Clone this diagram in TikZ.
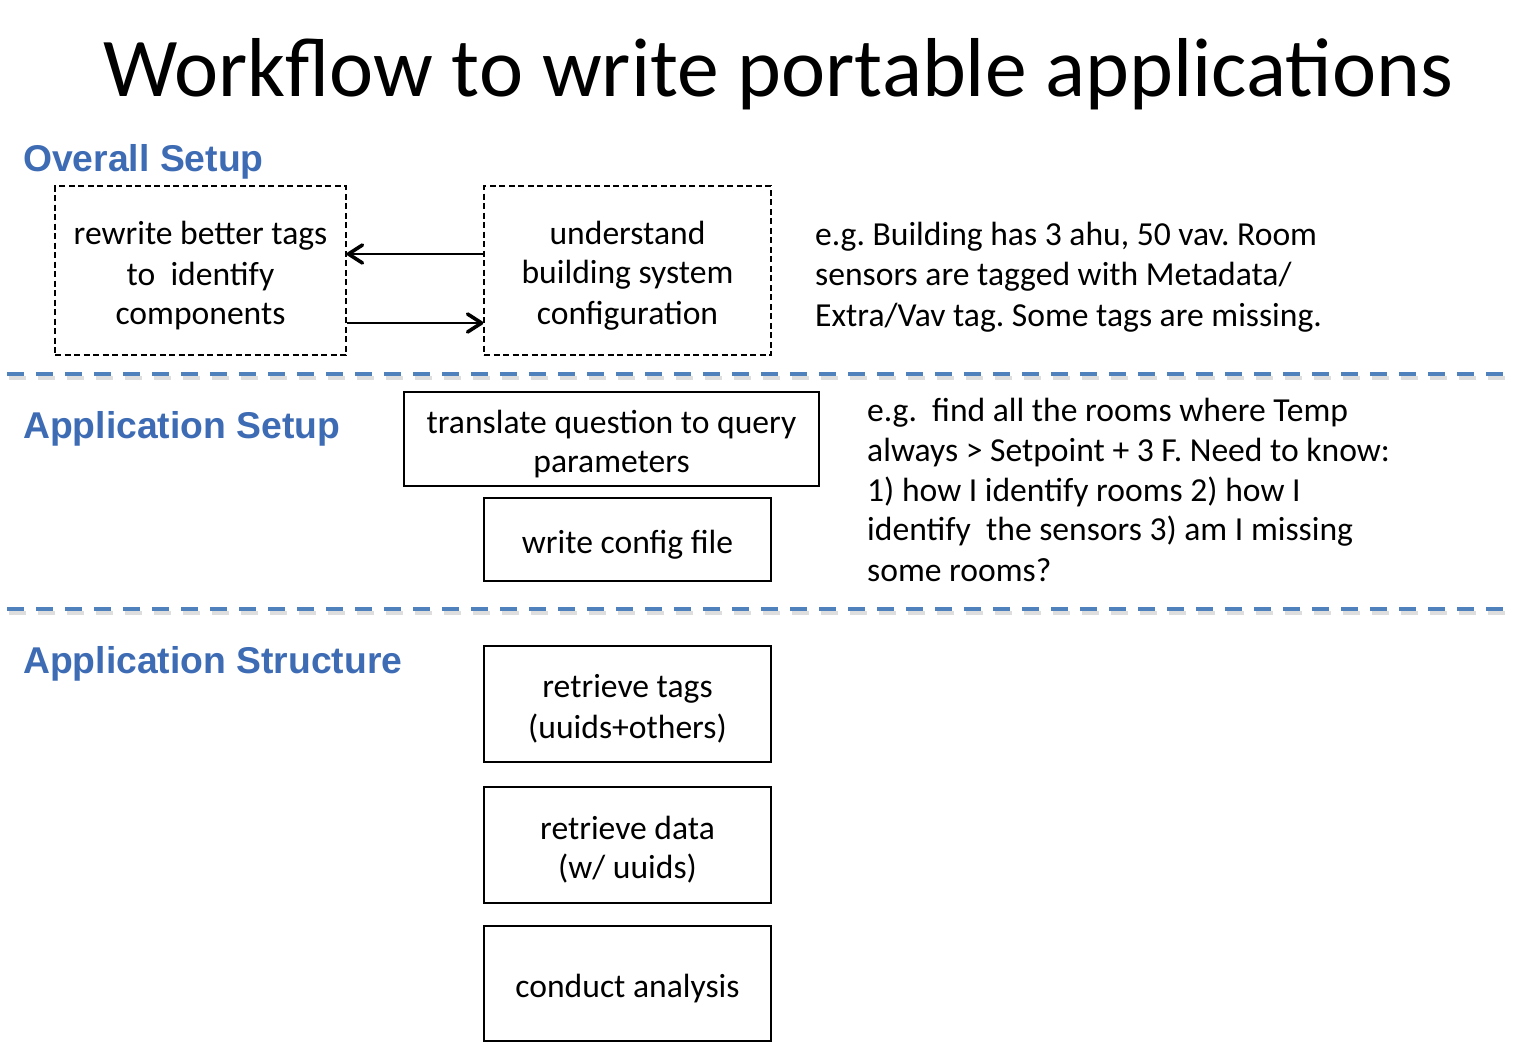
\documentclass[tikz,border=0pt]{standalone}
\usepackage{fontspec}
\setmainfont{Carlito}
\newfontfamily\headfont{Liberation Sans}
\usetikzlibrary{arrows.meta}
\definecolor{headblue}{RGB}{62,108,180}
\definecolor{lineblue}{RGB}{79,129,189}
\newcommand{\ms}{\rule[-5.75pt]{0pt}{39.5pt}}
\frenchspacing
\begin{document}
\begin{tikzpicture}[x=1pt,y=-1pt,
  bodyfont/.style={font=\fontsize{33.6}{39.5}\selectfont},
  sbox/.style={draw=black, line width=1.3pt, inner sep=0pt, align=center, bodyfont},
  dbox/.style={sbox, dash pattern=on 6pt off 3.5pt},
  note/.style={anchor=north west, align=left, inner sep=0pt, bodyfont},
  head/.style={anchor=base west, inner sep=0pt, text=headblue,
    font=\headfont\bfseries\fontsize{37.3}{44}\selectfont},
  arr/.style={line width=1.5pt, -{Straight Barb[length=14pt,width=18pt,line width=3.6pt,round]}},
  sep/.style={line width=4pt, lineblue, dash pattern=on 17pt off 12pt},
  sepshadow/.style={line width=4.5pt, black!13, dash pattern=on 17pt off 12pt}
]
\useasboundingbox (0,0) rectangle (1514,1044);

% title
\node[anchor=base west, inner sep=0pt, font=\fontsize{83.6}{98}\selectfont] (title) at (103,96)
  {Workflow to write portable applications};

% headings
\node[head] (h1) at (23,171) {Overall Setup};
\node[head] (h2) at (23,438) {Application Setup};
\node[head] (h3) at (23,673) {Application Structure};

% overall setup
\node[dbox, minimum width=291pt, minimum height=169pt] (A) at (200.5,270.5)
  {\ms rewrite better tags\\\ms to\ \ identify\\\ms components};
\node[dbox, minimum width=287pt, minimum height=169pt] (B) at (627.5,270.5)
  {\ms understand\\\ms building system\\\ms configuration};
\coordinate (ya) at (0,254);
\coordinate (yb) at (0,323);
\draw[arr] (B.west |- ya) -- (A.east |- ya);
\draw[arr] (A.east |- yb) -- (B.west |- yb);
\node[note] (n1) at (815,211.5)
  {\ms e.g. Building has 3 ahu, 50 vav. Room\\\ms sensors are tagged with Metadata/\\\ms Extra/Vav tag. Some tags are missing.};

% separators
\coordinate (s1a) at (7,374);
\coordinate (s1b) at (1507,374);
\coordinate (s2a) at (7,609);
\coordinate (s2b) at (1507,609);
\draw[sepshadow] ([shift={(1.5pt,-4pt)}]s1a) -- ([shift={(1.5pt,-4pt)}]s1b);
\draw[sepshadow] ([shift={(1.5pt,-4pt)}]s2a) -- ([shift={(1.5pt,-4pt)}]s2b);
\draw[sep] (s1a) -- (s1b);
\draw[sep] (s2a) -- (s2b);

% application setup
\node[sbox, minimum width=415pt, minimum height=94pt] (C) at (611.5,439)
  {\ms translate question to query\\\ms parameters};
\node[sbox, minimum width=287pt, minimum height=83pt] (D) at (627.5,539.5)
  {\ms write config file};
\node[note] (n2) at (867,387.5)
  {\ms e.g.\ \ find all the rooms where Temp\\\ms always > Setpoint + 3 F. Need to know:\\\ms 1) how I identify rooms 2) how I\\\ms identify\ \ the sensors 3) am I missing\\\ms some rooms?};

% application structure
\node[sbox, minimum width=287pt, minimum height=116pt] (E) at (627.5,704)
  {\ms retrieve tags\\\ms (uuids+others)};
\node[sbox, minimum width=287pt, minimum height=116pt] (F) at (627.5,845)
  {\ms retrieve data\\\ms (w/ uuids)};
\node[sbox, minimum width=287pt, minimum height=115pt] (G) at (627.5,983.5)
  {\ms conduct analysis};
\end{tikzpicture}
\end{document}
